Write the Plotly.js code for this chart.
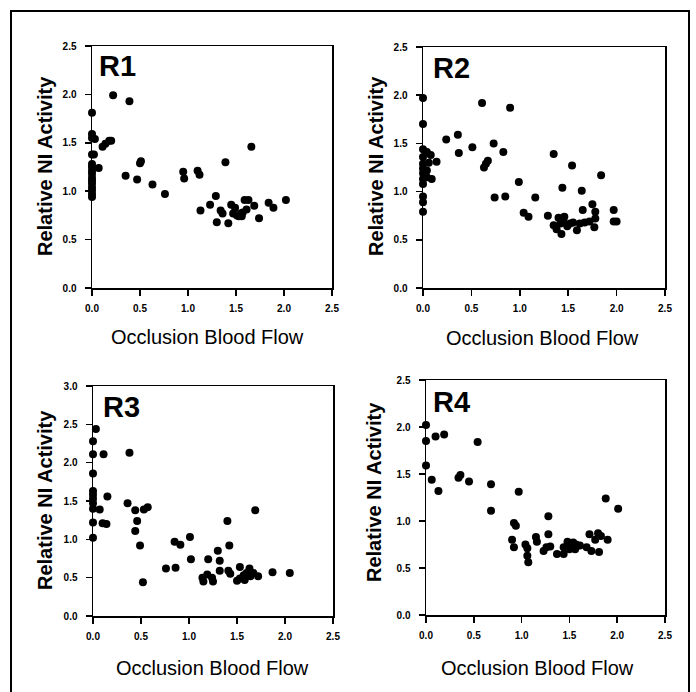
<!DOCTYPE html>
<html>
<head>
<meta charset="utf-8">
<script src="https://cdn.plot.ly/plotly-3.0.1.min.js"></script>
<style>html,body{margin:0;padding:0;background:#fff;}#chart{width:696px;height:692px;}</style>
</head>
<body>
<div id="chart"></div>
<script>
// ---- Data ----
const panelNames = ["R1", "R2", "R3", "R4"];
const xTitle = "Occlusion Blood Flow";
const yTitle = "Relative NI Activity";
const xTicks = [0, 0.5, 1.0, 1.5, 2.0, 2.5];
const yTicks1 = [0, 0.5, 1.0, 1.5, 2.0, 2.5];
const yTicks3 = [0, 0.5, 1.0, 1.5, 2.0, 2.5, 3.0];

const r1x = [0,0,0,0,0,0,0,0,0,0,0,0,0,0,0, 0.03,0.02,0.07, 0.22,0.39, 0.11,0.14,0.18,0.20,
  0.35,0.47,0.50,0.51,0.63,0.76, 0.95,0.96,1.10,1.12, 1.13,1.23,1.29,1.30,1.34,1.36,1.39,1.42,1.45,
  1.47,1.49,1.51,1.53,1.55,1.56,1.57,1.59,1.63,1.61,1.66,1.69,1.74,1.84,1.89,2.02];
const r1y = [1.81,1.59,1.55,1.38,1.28,1.25,1.21,1.18,1.14,1.11,1.08,1.04,1.01,0.97,0.94, 1.54,1.38,1.24, 1.99,1.93, 1.46,1.49,1.52,1.52,
  1.16,1.12,1.29,1.31,1.07,0.97, 1.20,1.13,1.21,1.17, 0.80,0.86,0.95,0.68,0.80,0.77,1.30,0.67,0.86,
  0.77,0.83,0.75,0.74,0.77,0.74,0.78,0.91,0.91,0.81,1.46,0.85,0.72,0.88,0.83,0.91];

const r2x = [0,0,0,0,0,0,0,0,0,0,0,0, 0.04,0.06,0.08,0.09,0.14,0.04,0.04,
  0.24,0.36,0.37,0.51,0.61,0.63,0.65,0.67,0.73,0.74,0.83,0.85,0.90,0.99,1.04,1.09,1.16,1.29,1.35,
  1.35,1.38,1.40,1.42,1.43,1.44,1.45,1.46,1.49,1.52,1.54,1.55,1.59,1.62,1.64,1.65,1.67,1.72,
  1.75,1.78,1.78,1.77,1.84,1.97,1.97,2.00];
const r2y = [1.97,1.70,1.44,1.36,1.29,1.24,1.19,1.13,1.08,0.95,0.89,0.79, 1.41,1.30,1.38,1.13,1.31,1.22,1.15,
  1.54,1.59,1.40,1.46,1.92,1.25,1.29,1.32,1.50,0.94,1.41,0.95,1.87,1.10,0.78,0.74,0.94,0.75,1.39,
  0.65,0.61,0.73,0.67,0.56,1.04,0.70,0.74,0.64,0.67,1.27,0.68,0.60,0.67,1.01,0.81,0.68,0.69,
  0.87,0.79,0.72,0.63,1.17,0.81,0.69,0.69];

const r3x = [0,0,0,0,0,0,0,0,0,0, 0.03,0.07,0.11,0.15,0.10,0.14,0.38,0.36,0.44,0.46,0.44,0.49,0.53,0.57,0.52,
  0.76,0.85,0.86,0.91,1.01,1.02,1.14,1.15,1.19,1.20,1.24,1.25,1.30,1.32,1.32,1.40,1.41,1.43,1.42,
  1.50,1.53,1.57,1.60,1.64,1.67,1.63,1.53,1.58,1.69,1.72,1.87,2.05];
const r3y = [2.28,2.11,1.86,1.63,1.58,1.53,1.47,1.40,1.22,1.02, 2.44,1.39,2.11,1.56,1.21,1.20,2.13,1.47,1.38,1.24,1.11,0.92,1.39,1.42,0.44,
  0.62,0.97,0.63,0.93,1.03,0.74,0.50,0.45,0.54,0.74,0.50,0.45,0.85,0.72,0.59,1.24,0.59,0.55,0.92,
  0.46,0.49,0.53,0.56,0.52,0.56,0.62,0.64,0.47,1.38,0.52,0.57,0.56];

const r4x = [0,0,0, 0.06,0.10,0.13,0.19,0.34,0.36,0.45,0.54,0.68,0.68,0.90,0.92,0.92,0.94,0.97,
  1.04,1.06,1.06,1.07,1.15,1.16,1.23,1.26,1.28,1.28,1.30,1.37,1.44,1.44,1.48,1.51,1.54,1.57,1.61,1.50,1.56,
  1.68,1.71,1.73,1.77,1.80,1.83,1.81,1.88,1.90,2.01];
const r4y = [2.02,1.85,1.59, 1.44,1.90,1.32,1.92,1.46,1.49,1.42,1.84,1.39,1.11,0.80,0.72,0.98,0.95,1.31,
  0.75,0.71,0.63,0.56,0.83,0.78,0.68,0.72,0.86,1.05,0.73,0.65,0.65,0.72,0.78,0.76,0.77,0.75,0.74,0.70,0.70,
  0.72,0.86,0.68,0.80,0.87,0.84,0.67,1.24,0.80,1.13];

const seriesX = [r1x, r2x, r3x, r4x];
const seriesY = [r1y, r2y, r3y, r4y];
const yMax = [2.5, 2.5, 3.0, 2.5];
const yTickSets = [yTicks1, yTicks1, yTicks3, yTicks1];

// ---- Layout helpers (pixel -> paper) ----
const W = 696, H = 692;
const px = v => v / W;
const py = v => 1 - v / H;

// plot boxes in pixels: [left, right, top, bottom]
const boxes = [[92, 332, 46, 288], [423, 665, 47, 288], [93, 333, 386, 616], [426, 665, 380, 615]];
const labelPos = [[117, 66], [451, 68], [121, 407], [451, 402]];
const xTitlePos = [[207, 337], [542, 338], [213, 668], [537, 668]];
const yTitlePos = [[45, 166], [376, 166], [45, 500], [374, 492]];

const FONT = "Liberation Sans, Arial, Helvetica, sans-serif";
const traces = [];
const layout = {
  width: W, height: H,
  margin: {l: 0, r: 0, t: 0, b: 0},
  paper_bgcolor: "#fff", plot_bgcolor: "#fff",
  showlegend: false,
  annotations: [],
  shapes: [{type: "rect", xref: "paper", yref: "paper",
    x0: px(11), x1: px(689), y0: -0.05, y1: py(11),
    line: {color: "#000", width: 2}}]
};

for (let i = 0; i < 4; i++) {
  const n = i === 0 ? "" : String(i + 1);
  const b = boxes[i];
  traces.push({
    type: "scatter", mode: "markers",
    x: seriesX[i], y: seriesY[i],
    xaxis: "x" + n, yaxis: "y" + n,
    cliponaxis: false,
    marker: {color: "#000", size: 8}
  });
  const common = {
    showgrid: false, zeroline: false, showline: true, mirror: true,
    linecolor: "#000", linewidth: 1.5,
    ticks: "outside", ticklen: 6, tickwidth: 1.5, tickcolor: "#000",
    tickfont: {family: FONT, size: 10, color: "#000", weight: "bold"},
    tickformat: ".1f", fixedrange: true
  };
  layout["xaxis" + n] = Object.assign({}, common, {
    domain: [px(b[0]), px(b[1])], range: [0, 2.5],
    tickmode: "array", tickvals: xTicks,
    anchor: "y" + n, ticklabelstandoff: 4
  });
  layout["yaxis" + n] = Object.assign({}, common, {
    domain: [py(b[3]), py(b[2])], range: [0, yMax[i]],
    tickmode: "array", tickvals: yTickSets[i],
    anchor: "x" + n, ticklabelstandoff: 6
  });
  layout.annotations.push({
    xref: "paper", yref: "paper", x: px(labelPos[i][0]), y: py(labelPos[i][1]),
    text: panelNames[i], showarrow: false, xanchor: "center", yanchor: "middle",
    font: {family: FONT, size: 29, color: "#000", weight: "bold"}
  });
  layout.annotations.push({
    xref: "paper", yref: "paper", x: px(xTitlePos[i][0]), y: py(xTitlePos[i][1]),
    text: xTitle, showarrow: false, xanchor: "center", yanchor: "middle",
    font: {family: FONT, size: 20, color: "#000"}
  });
  layout.annotations.push({
    xref: "paper", yref: "paper", x: px(yTitlePos[i][0]), y: py(yTitlePos[i][1]),
    text: yTitle, showarrow: false, xanchor: "center", yanchor: "middle", textangle: -90,
    font: {family: FONT, size: 20, color: "#000", weight: "bold"}
  });
}

Plotly.newPlot("chart", traces, layout, {staticPlot: true, displayModeBar: false});
</script>
</body>
</html>
